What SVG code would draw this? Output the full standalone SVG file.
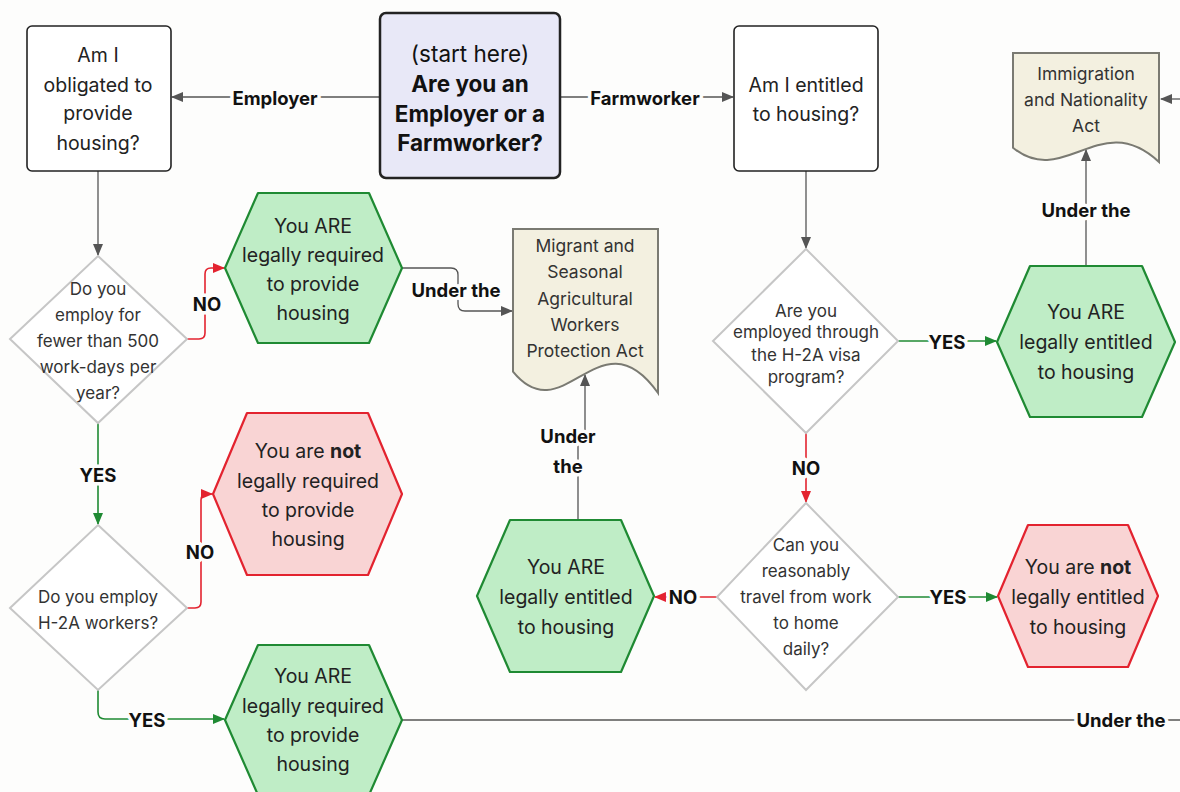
<svg xmlns="http://www.w3.org/2000/svg" width="1180" height="792" viewBox="0 0 1180 792">
<defs>
<style>
text{font-family:Inter,"Liberation Sans",sans-serif;text-anchor:middle;dominant-baseline:central}
.box{fill:#fff;stroke:#222;stroke-width:1.6}
.start{fill:#e8e8f7;stroke:#222;stroke-width:2.5}
.dia{fill:#fff;stroke:#c6c6c6;stroke-width:2}
.doc{fill:#f3f0e0;stroke:#7a7a72;stroke-width:2}
.gh{fill:#bfedc6;stroke:#1f8a33;stroke-width:2.2;stroke-linejoin:round}
.rh{fill:#f9d4d4;stroke:#e3232f;stroke-width:2.2;stroke-linejoin:round}
.t{font-size:19.5px;fill:#222}
.ts{font-size:17px;fill:#333}
.td{font-size:17.5px;fill:#333}
.st{font-size:22.5px;fill:#111}
.b{font-weight:700}
.lbl{font-size:18.5px;font-weight:700;fill:#111;stroke:#fdfdfc;stroke-width:7;paint-order:stroke;stroke-linejoin:round}
.cg{fill:none;stroke:#555;stroke-width:1.3}
.cr{fill:none;stroke:#e3232f;stroke-width:1.6}
.cn{fill:none;stroke:#1f8a33;stroke-width:1.6}
</style>
<marker id="ag" markerUnits="userSpaceOnUse" markerWidth="12" markerHeight="10" refX="11" refY="5" orient="auto"><path d="M0,0 L12,5 L0,10 z" fill="#555"/></marker>
<marker id="ar" markerUnits="userSpaceOnUse" markerWidth="12" markerHeight="10" refX="11" refY="5" orient="auto"><path d="M0,0 L12,5 L0,10 z" fill="#e3232f"/></marker>
<marker id="an" markerUnits="userSpaceOnUse" markerWidth="12" markerHeight="10" refX="11" refY="5" orient="auto"><path d="M0,0 L12,5 L0,10 z" fill="#1f8a33"/></marker>
</defs>
<rect width="1180" height="792" fill="#fdfdfc"/>

<g id="connectors">
<path class="cg" d="M380,97 H172" marker-end="url(#ag)"/>
<path class="cg" d="M560,97 H733" marker-end="url(#ag)"/>
<path class="cg" d="M98,171 V255" marker-end="url(#ag)"/>
<path class="cr" d="M187,339 H199 Q205,339 205,333 V274 Q205,268 211,268 H224" marker-end="url(#ar)"/>
<path class="cn" d="M98,423 V524" marker-end="url(#an)"/>
<path class="cr" d="M187,608 H195 Q201,608 201,602 V500 Q201,494 207,494 H212" marker-end="url(#ar)"/>
<path class="cn" d="M98,690 V712 Q98,719 105,719 H224" marker-end="url(#an)"/>
<path class="cg" d="M402,268 H451 Q458,268 458,275 V304 Q458,311 465,311 H512" marker-end="url(#ag)"/>
<path class="cg" d="M578,520 V436 H585 V375" marker-end="url(#ag)"/>
<path class="cg" d="M806,171 V248" marker-end="url(#ag)"/>
<path class="cn" d="M898,341 H996" marker-end="url(#an)"/>
<path class="cg" d="M1086,266 V150" marker-end="url(#ag)"/>
<path class="cr" d="M806,433 V502" marker-end="url(#ar)"/>
<path class="cr" d="M717,597 H655" marker-end="url(#ar)"/>
<path class="cn" d="M898,597 H997" marker-end="url(#an)"/>
<path class="cg" d="M402,720 H1180"/>
<path class="cg" d="M1180,99 H1161" marker-end="url(#ag)"/>
<text class="lbl" x="275" y="98">Employer</text>
<text class="lbl" x="645" y="98">Farmworker</text>
<text class="lbl" x="207" y="304">NO</text>
<text class="lbl" x="98" y="475">YES</text>
<text class="lbl" x="200" y="552">NO</text>
<text class="lbl" x="147" y="720">YES</text>
<text class="lbl" x="456" y="290">Under the</text>
<text class="lbl" x="568" y="436">Under</text>
<text class="lbl" x="568" y="466">the</text>
<text class="lbl" x="947" y="342">YES</text>
<text class="lbl" x="1086" y="210">Under the</text>
<text class="lbl" x="806" y="468">NO</text>
<text class="lbl" x="683" y="597">NO</text>
<text class="lbl" x="948" y="597">YES</text>
<text class="lbl" x="1121" y="720">Under the</text>
</g>

<g id="start">
<rect class="start" x="380" y="13" width="180" height="165" rx="6"/>
<text class="st" x="470" y="53">(start here)</text>
<text class="st b" x="470" y="83">Are you an</text>
<text class="st b" x="470" y="113">Employer or a</text>
<text class="st b" x="470" y="142">Farmworker?</text>
</g>

<g id="obligated">
<rect class="box" x="27" y="26" width="144" height="145" rx="5"/>
<text class="t" x="98" y="55">Am I</text>
<text class="t" x="98" y="85">obligated to</text>
<text class="t" x="98" y="113">provide</text>
<text class="t" x="98" y="143">housing?</text>
</g>

<g id="entitled">
<rect class="box" x="734" y="26" width="144" height="145" rx="5"/>
<text class="t" x="806" y="85">Am I entitled</text>
<text class="t" x="806" y="114">to housing?</text>
</g>

<g id="ina">
<path class="doc" d="M1013,53 H1159 V162 C1100.6,107.5 1064.1,189.3 1013,147.8 Z"/>
<text class="td" x="1086" y="73">Immigration</text>
<text class="td" x="1086" y="99">and Nationality</text>
<text class="td" x="1086" y="125">Act</text>
</g>

<g id="q500">
<polygon class="dia" points="98,256 187,339 98,423 10,339"/>
<text class="ts" x="98" y="289">Do you</text>
<text class="ts" x="98" y="315">employ for</text>
<text class="ts" x="98" y="341">fewer than 500</text>
<text class="ts" x="98" y="367">work-days per</text>
<text class="ts" x="98" y="393">year?</text>
</g>

<g id="qh2a">
<polygon class="dia" points="98,525 187,608 98,690 10,608"/>
<text class="ts" x="98" y="597">Do you employ</text>
<text class="ts" x="98" y="623">H-2A workers?</text>
</g>

<g id="qvisa">
<polygon class="dia" points="806,249 898,341 806,433 713,341"/>
<text class="ts" x="806" y="311">Are you</text>
<text class="ts" x="806" y="332">employed through</text>
<text class="ts" x="806" y="355">the H-2A visa</text>
<text class="ts" x="806" y="377">program?</text>
</g>

<g id="qtravel">
<polygon class="dia" points="806,503 898,597 806,690 717,597"/>
<text class="ts" x="806" y="545">Can you</text>
<text class="ts" x="806" y="571">reasonably</text>
<text class="ts" x="806" y="597">travel from work</text>
<text class="ts" x="806" y="623">to home</text>
<text class="ts" x="806" y="649">daily?</text>
</g>

<g id="req1">
<polygon class="gh" points="225,268 258,193 369,193 402,268 369,343 258,343"/>
<text class="t" x="313" y="226">You ARE</text>
<text class="t" x="313" y="255">legally required</text>
<text class="t" x="313" y="284">to provide</text>
<text class="t" x="313" y="313">housing</text>
</g>

<g id="notreq">
<polygon class="rh" points="213,494 247,413 368,413 402,494 368,575 247,575"/>
<text class="t" x="308" y="451">You are <tspan class="b">not</tspan></text>
<text class="t" x="308" y="481">legally required</text>
<text class="t" x="308" y="510">to provide</text>
<text class="t" x="308" y="539">housing</text>
</g>

<g id="req2">
<polygon class="gh" points="225,720 258,645 369,645 402,720 369,795 258,795"/>
<text class="t" x="313" y="676">You ARE</text>
<text class="t" x="313" y="706">legally required</text>
<text class="t" x="313" y="735">to provide</text>
<text class="t" x="313" y="764">housing</text>
</g>

<g id="msawpa">
<path class="doc" d="M513,229 H658 V393 C600,311 563.8,434 513,371.7 Z"/>
<text class="td" x="585" y="245">Migrant and</text>
<text class="td" x="585" y="271">Seasonal</text>
<text class="td" x="585" y="298">Agricultural</text>
<text class="td" x="585" y="324">Workers</text>
<text class="td" x="585" y="350">Protection Act</text>
</g>

<g id="ent1">
<polygon class="gh" points="997,342 1030,266 1142,266 1175,342 1142,417 1030,417"/>
<text class="t" x="1086" y="312">You ARE</text>
<text class="t" x="1086" y="342">legally entitled</text>
<text class="t" x="1086" y="372">to housing</text>
</g>

<g id="ent2">
<polygon class="gh" points="477,596 510,520 621,520 654,596 621,672 510,672"/>
<text class="t" x="566" y="567">You ARE</text>
<text class="t" x="566" y="597">legally entitled</text>
<text class="t" x="566" y="627">to housing</text>
</g>

<g id="notent">
<polygon class="rh" points="998,596 1028,525 1128,525 1158,596 1128,667 1028,667"/>
<text class="t" x="1078" y="567">You are <tspan class="b">not</tspan></text>
<text class="t" x="1078" y="597">legally entitled</text>
<text class="t" x="1078" y="627">to housing</text>
</g>
</svg>
